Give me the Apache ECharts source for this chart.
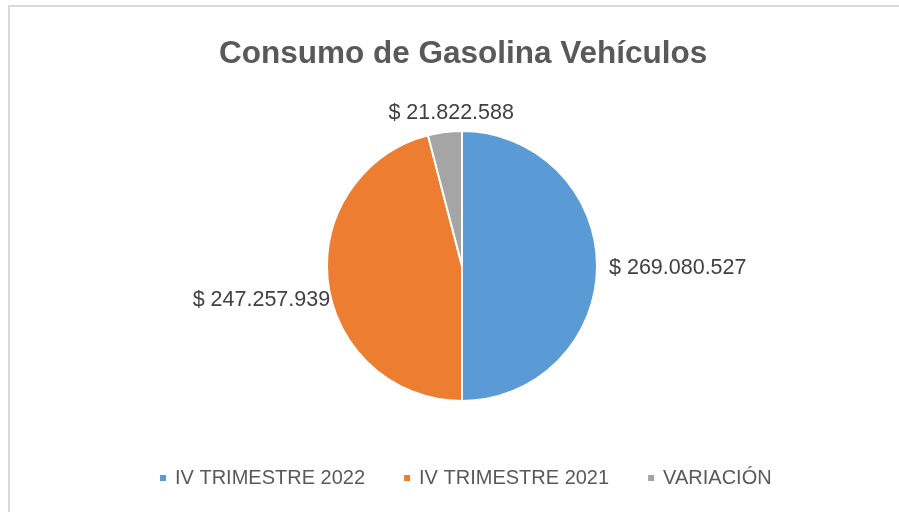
<!DOCTYPE html>
<html>
<head>
    <meta charset="utf-8">
    <title>Consumo de Gasolina Vehículos</title>
    <script src="https://cdn.jsdelivr.net/npm/echarts@6/dist/echarts.min.js"></script>
    <style>
        html, body { margin: 0; padding: 0; background: #fff; }
        #chart { width: 899px; height: 512px; }
    </style>
</head>
<body>
<div id="chart"></div>
<script type="text/javascript">
    // datos del grafico
    var categorias = ['IV TRIMESTRE 2022', 'IV TRIMESTRE 2021', 'VARIACIÓN'];
    var valores = [269080527, 247257939, 21822588];
    var colores = ['#5B9BD5', '#ED7D31', '#A5A5A5'];

    // pequeños ajustes de posicion de las etiquetas (como en Excel)
    var ajusteEtiquetas = [[0, 2], [14, 16], [75, -12]];

    // formato $ 269.080.527
    function formatoPesos(v) {
        return '$ ' + String(v).replace(/\B(?=(\d{3})+(?!\d))/g, '.');
    }

    var myChart = echarts.init(document.getElementById('chart'));

    var datos = categorias.map(function (c, i) {
        return { name: c, value: valores[i], itemStyle: { color: colores[i] } };
    });

    myChart.setOption({
        animation: false,
        title: {
            text: 'Consumo de Gasolina Vehículos',
            left: 214,
            top: 33,
            textStyle: {
                fontFamily: 'Liberation Sans',
                fontSize: 31.5,
                fontWeight: 'bold',
                color: '#595959'
            }
        },
        legend: {
            bottom: 19,
            left: 153,
            itemWidth: 8,
            itemHeight: 8,
            itemGap: 37,
            icon: 'rect',
            data: categorias,
            textStyle: {
                fontFamily: 'Liberation Sans',
                fontSize: 20,
                color: '#595959',
                padding: [0, 0, 0, 3]
            }
        },
        graphic: [{
            type: 'rect',
            shape: { x: 9, y: 6, width: 900, height: 520 },
            style: { fill: 'none', stroke: '#d9d9d9', lineWidth: 2 },
            silent: true
        }],
        series: [
            {
                name: 'Consumo',
                type: 'pie',
                radius: 135,
                center: [462, 266],
                startAngle: 90,
                clockwise: true,
                data: datos,
                itemStyle: { borderColor: '#fff', borderWidth: 2 },
                label: {
                    position: 'outside',
                    formatter: function (p) { return formatoPesos(p.value); },
                    fontFamily: 'Liberation Sans',
                    fontSize: 21.5,
                    color: '#404040'
                },
                labelLine: { show: false, length: 7, length2: 0 },
                labelLayout: function (p) {
                    var a = ajusteEtiquetas[p.dataIndex];
                    return { dx: a[0], dy: a[1] };
                },
                emphasis: { disabled: true }
            }
        ]
    });
</script>
</body>
</html>
